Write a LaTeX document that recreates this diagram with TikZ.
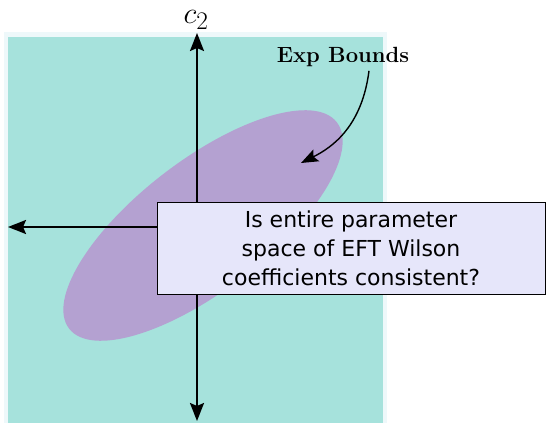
\RequirePackage{fix-cm}
\documentclass[tikz,border=0pt]{standalone}
\usepackage{fontspec}
\setsansfont{DejaVu Sans}
\usepackage{tikz}
\usetikzlibrary{arrows.meta, positioning}

\definecolor{planeteal}{RGB}{166,226,220}
\definecolor{planeedge}{RGB}{238,248,250}
\definecolor{boundpurple}{RGB}{180,161,209}
\definecolor{questionfill}{RGB}{230,230,250}

\begin{document}
\begin{tikzpicture}[
  x=1pt, y=1pt,
  axis/.style={line width=2.2pt, -{Stealth[length=18pt, width=14pt, inset=3pt]}},
  pointer/.style={line width=1.4pt, -{Stealth[length=17pt, width=13pt, inset=3pt]}},
  questionbox/.style={rectangle, draw=black, line width=0.9pt, fill=questionfill,
             minimum width=388pt, minimum height=92pt, align=center,
             font=\sffamily\fontsize{22}{29}\selectfont},
  boundlabel/.style={font=\bfseries\fontsize{22}{26}\selectfont},
  axislabel/.style={font=\fontsize{24.88}{30}\selectfont, scale=1.22, transform shape}
]
\useasboundingbox (0,0) rectangle (548,423);

% parameter plane
\fill[planeedge] (4,0) rectangle (387,391);
\fill[planeteal] (8,0) rectangle (383,386);

% experimental bounds
\fill[boundpurple, rotate around={37.6:(203,197.5)}] (203,197.5) ellipse [x radius=169, y radius=65];

% axes
\coordinate (origin) at (197,196);
\coordinate (top) at (197,390);
\coordinate (bottom) at (197,2);
\coordinate (left) at (8,196);
\draw[axis] (origin) -- (top);
\draw[axis] (origin) -- (bottom);
\draw[axis] (origin) -- (left);
\node[axislabel, anchor=base] (c2) at (196,399) {$c_2$};

% label with pointer
\node[boundlabel, anchor=base] (bounds) at (343,360) {Exp Bounds};
\coordinate (target) at (301,260);
\draw[pointer] ([xshift=26pt]bounds.south) .. controls +(-7,-55) and (333,276) .. (target);

% question
\node[questionbox] (question) at (351,175) {%
  Is entire parameter\\
  space of EFT Wilson\\
  coefficients consistent?
};

\end{tikzpicture}
\end{document}
